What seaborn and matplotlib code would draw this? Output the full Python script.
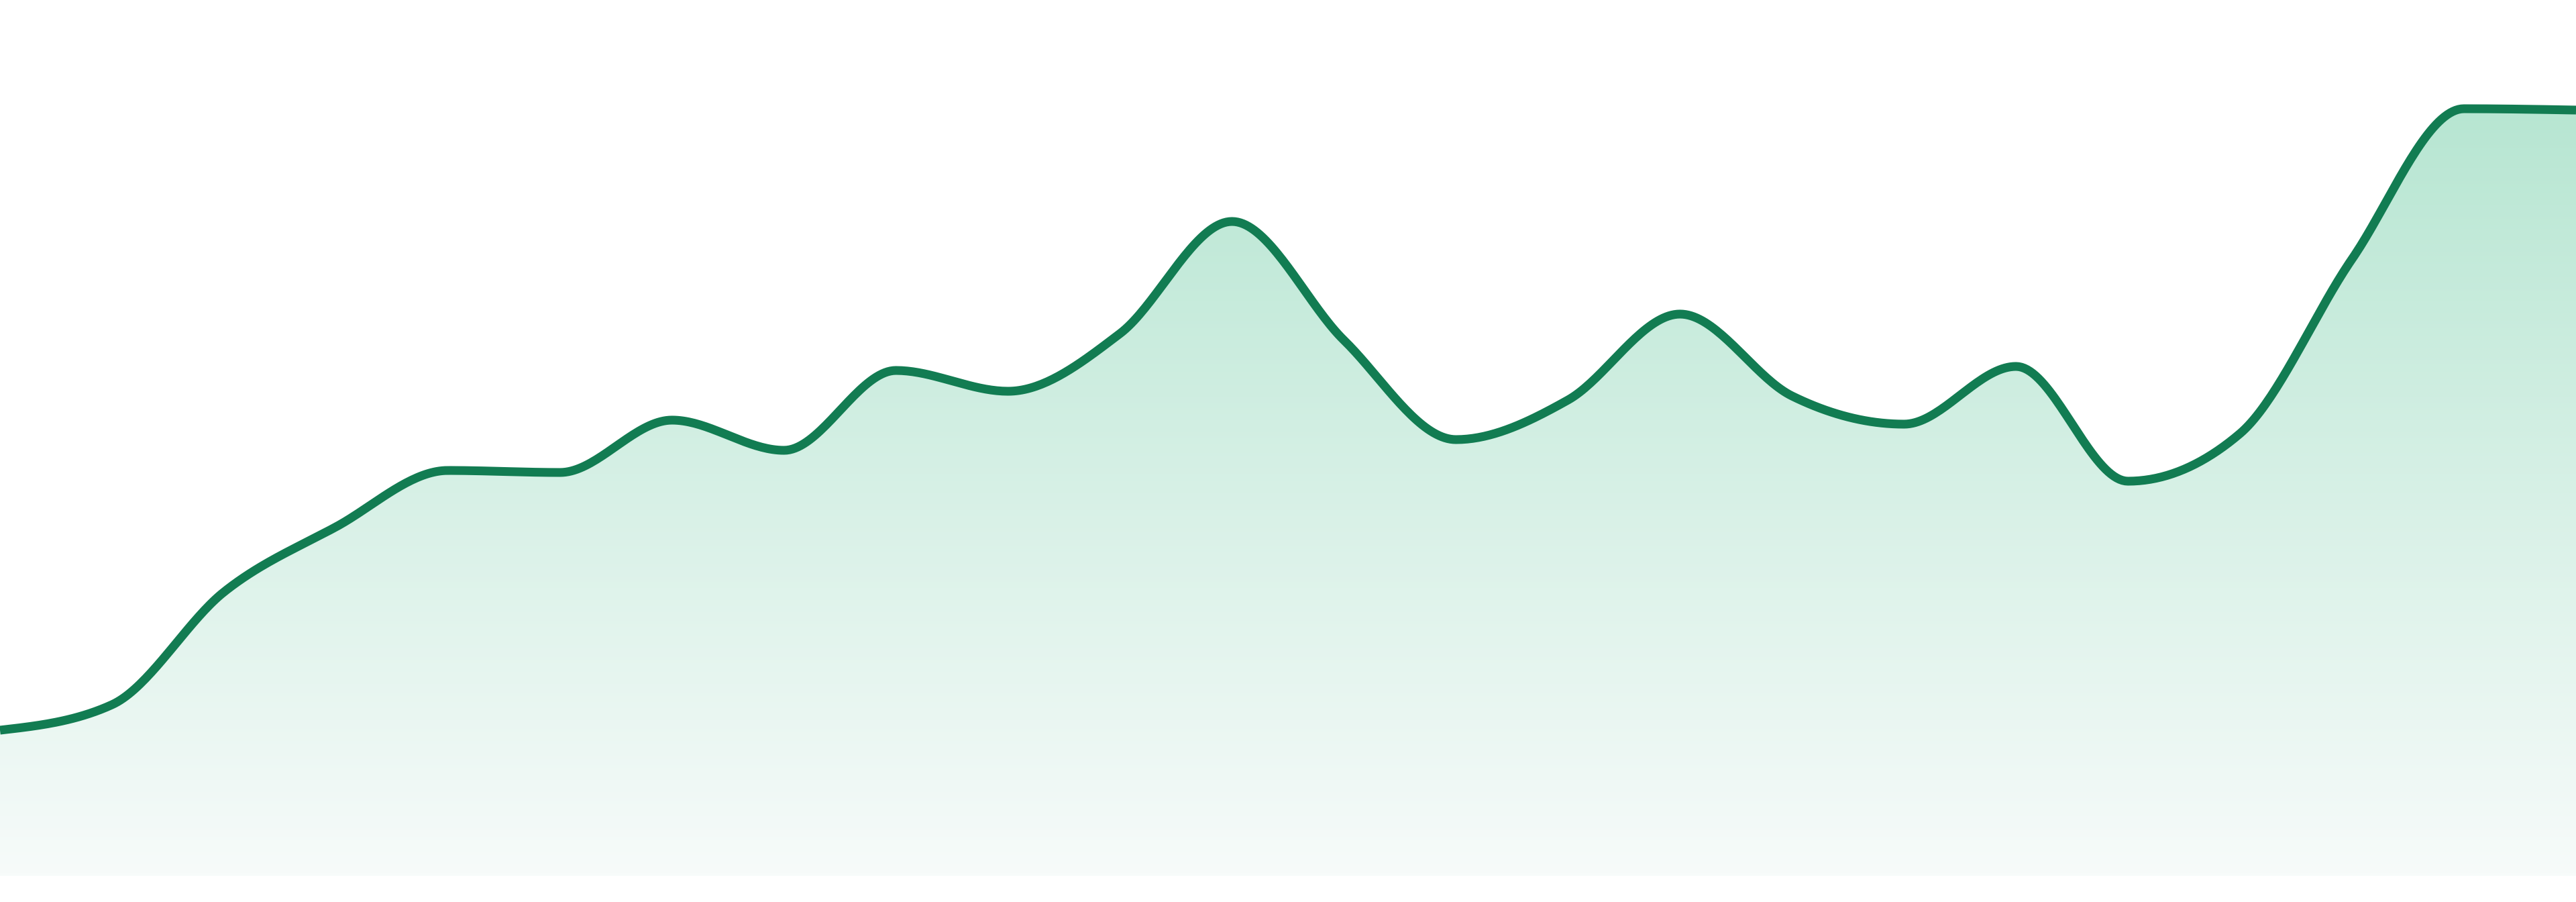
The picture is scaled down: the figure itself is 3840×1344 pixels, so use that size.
import numpy as np
import pandas as pd
import matplotlib
matplotlib.use("Agg")
import matplotlib.pyplot as plt
import seaborn as sns
from matplotlib.colors import LinearSegmentedColormap

# Values (24 evenly spaced periods)
periods = list(range(24))
values = [21.7, 25.5, 42.3, 52.0, 60.4, 60.1, 67.9, 63.4, 75.3, 72.2, 80.8, 97.5,
          79.8, 65.0, 70.9, 83.7, 71.5, 67.3, 75.9, 58.8, 65.9, 91.9, 114.3, 114.1]

line_color = "#127c52"
fill_top = "#b7e6d2"
fill_bottom = "#f7fbfa"


def monotone_x(x, y, n=40):
    # same idea as d3.curveMonotoneX (Steffen slopes + cubic hermite)
    x = np.asarray(x, float)
    y = np.asarray(y, float)
    h = np.diff(x)
    s = np.diff(y) / h
    t = np.zeros_like(y)
    for i in range(1, len(x) - 1):
        p = (s[i - 1] * h[i] + s[i] * h[i - 1]) / (h[i - 1] + h[i])
        t[i] = (np.sign(s[i - 1]) + np.sign(s[i])) * min(abs(s[i - 1]), abs(s[i]), 0.5 * abs(p))
    t[0] = (3 * s[0] - t[1]) / 2
    t[-1] = (3 * s[-1] - t[-2]) / 2
    xs, ys = [], []
    for i in range(len(x) - 1):
        u = np.linspace(0, 1, n, endpoint=(i == len(x) - 2))
        h00 = 2 * u**3 - 3 * u**2 + 1
        h10 = u**3 - 2 * u**2 + u
        h01 = -2 * u**3 + 3 * u**2
        h11 = u**3 - u**2
        xs.append(x[i] + u * h[i])
        ys.append(h00 * y[i] + h10 * h[i] * t[i] + h01 * y[i + 1] + h11 * h[i] * t[i + 1])
    return np.concatenate(xs), np.concatenate(ys)


sx, sy = monotone_x(periods, values)
smooth = pd.DataFrame({"period": sx, "value": sy})

sns.set_style("white")
fig = plt.figure(figsize=(38.4, 13.44), dpi=100)
ax = fig.add_axes([0, 0, 1, 1])

# gradient area under the curve
area = ax.fill_between(smooth["period"], 0, smooth["value"], color="none", lw=0)
cmap = LinearSegmentedColormap.from_list("grad", [fill_bottom, fill_top])
top_val = max(values)
grad = np.linspace(0, 1, 256).reshape(-1, 1)
img = ax.imshow(grad, cmap=cmap, aspect="auto", origin="lower",
                extent=[0, 23, 0, top_val], zorder=1)
path = area.get_paths()[0]
img.set_clip_path(path, transform=ax.transData)

sns.lineplot(data=smooth, x="period", y="value", ax=ax, color=line_color,
             linewidth=9.4, zorder=3, sort=False)
ax.lines[-1].set_solid_joinstyle("round")
ax.lines[-1].set_solid_capstyle("butt")

# limits last, imshow resets them
ax.set_xlim(0, 23)
ax.set_ylim(-3.9, 130.5)
ax.set_axis_off()
fig.savefig("out.png", dpi=100, facecolor="white")
